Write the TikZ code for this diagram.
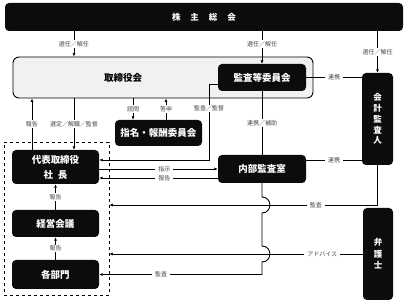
\documentclass[tikz,border=0pt]{standalone}
\usepackage{fontspec}
\setmainfont{Noto Sans CJK JP}
\usetikzlibrary{arrows.meta,calc,positioning}
\definecolor{BoxBlack}{RGB}{12,12,12}
\definecolor{BoardGray}{RGB}{241,241,241}
\definecolor{NoteGray}{RGB}{70,70,70}

\begin{document}
\begin{tikzpicture}[x=1pt,y=-1pt,
    blackbox/.style={fill=BoxBlack,rounded corners=4pt,text=white,inner sep=0pt,align=center,
      font=\fontsize{9.5}{15}\selectfont\bfseries},
    tallbox/.style={blackbox,minimum width=31pt,minimum height=92pt,font=\fontsize{8.5}{10.8}\selectfont\bfseries},
    note/.style={fill=white,text=NoteGray,font=\fontsize{6}{7}\selectfont,inner xsep=3pt,inner ysep=1pt},
    conn/.style={line width=.9pt},
    arr/.style={conn,-{Latex[length=3.5pt,width=3pt]}}]
  \useasboundingbox (0,0) rectangle (408,305);

  \node[blackbox,minimum width=398pt,minimum height=28pt,font=\fontsize{8.5}{10}\selectfont\bfseries]
    (soukai) at (204,17) {株\hspace{10pt}主\hspace{10pt}総\hspace{10pt}会};
  \node[draw,fill=BoardGray,line width=.9pt,rounded corners=6pt,minimum width=300pt,minimum height=41pt]
    (bod) at (163,77.5) {};
  \node[font=\fontsize{9.5}{12}\selectfont\bfseries] (bodtext) at (123,78) {取締役会};
  \node[blackbox,minimum width=88pt,minimum height=27pt] (kansa) at (262,77.5) {監査等委員会};
  \node[tallbox] (kaikei) at (377.5,119) {会\\計\\監\\査\\人};
  \node[blackbox,minimum width=87pt,minimum height=26pt] (shimei) at (158.5,133) {指名・報酬委員会};
  \node[blackbox,minimum width=87pt,minimum height=34pt] (daihyo) at (55.5,167) {代表取締役\\社\hspace{5pt}長};
  \node[blackbox,minimum width=88pt,minimum height=28pt] (naibu) at (262,169) {内部監査室};
  \node[blackbox,minimum width=87pt,minimum height=27pt] (keiei) at (55.5,223.5) {経営会議};
  \node[blackbox,minimum width=87pt,minimum height=29pt] (bumon) at (55.5,274.5) {各部門};
  \node[tallbox,minimum width=30pt,font=\fontsize{8.5}{11.5}\selectfont\bfseries] (bengoshi) at (378,254) {弁\\護\\士};
  \node[draw,dashed,line width=.7pt,minimum width=105pt,minimum height=153pt] (grp) at (56.5,218.5) {};

  \coordinate (xa) at (74,0);
  \coordinate (xr) at (32,0);
  \coordinate (xq) at (133,0);
  \coordinate (xt) at (166,0);
  \coordinate (xk) at (209,0);
  \coordinate (j1) at (0,205);
  \coordinate (j2) at (0,254);

  \draw[arr] (soukai.south -| xa) -- node[note]{選任／解任} (bod.north -| xa);
  \draw[arr] (soukai.south -| kansa) -- node[note,pos=.4]{選任／解任} (kansa.north);
  \draw[arr] (soukai.south -| kaikei) -- node[note]{選任／解任} (kaikei.north);
  \draw[conn] (kansa.east) -- node[note]{連携} (kansa.east -| kaikei.west);

  \draw[arr] (daihyo.north -| xr) -- node[note]{報告} (bod.south -| xr);
  \draw[arr] (bod.south -| xa) -- node[note]{選定／解職／監督} (daihyo.north -| xa);
  \draw[arr] (bod.south -| xq) -- node[note]{諮問} (shimei.north -| xq);
  \draw[arr] (shimei.north -| xt) -- node[note]{答申} (bod.south -| xt);
  \draw[arr] ([yshift=-7pt]kansa.west) -- ([yshift=-7pt]kansa.west -| xk)
    |- node[note,pos=.16]{監査／監督} ([yshift=7pt]daihyo.east);
  \draw[conn] (kansa.south) -- node[note]{連携／補助} (naibu.north);

  \draw[arr] (daihyo.east |- naibu.west) -- node[note,pos=.55]{指示} (naibu.west);
  \draw[arr] ([yshift=-9pt]naibu.west) -- node[note,pos=.45]{報告} ([yshift=-9pt]naibu.west -| daihyo.east);
  \draw[conn] ([yshift=9pt]naibu.east) -- node[note]{連携} ([yshift=9pt]naibu.east -| kaikei.west);

  \draw[arr] (kaikei.south) |- node[note,pos=.615]{監査} (grp.east |- j1);
  \draw[arr] (bengoshi.west) -- node[note,pos=.16]{アドバイス} (bengoshi.west -| grp.east);
  \draw[arr] (naibu.south) -- ($(naibu.south |- j1)+(0,-8)$)
    .. controls +(10.5,0) and +(10.5,0) .. ($(naibu.south |- j1)+(0,8)$)
    -- ($(naibu.south |- j2)+(0,-8)$)
    .. controls +(10.5,0) and +(10.5,0) .. ($(naibu.south |- j2)+(0,8)$)
    |- node[note,pos=.81]{監査} (bumon.east);

  \draw[arr] (keiei.north) -- node[note]{報告} (daihyo.south);
  \draw[arr] (bumon.north) -- node[note]{報告} (keiei.south);
\end{tikzpicture}
\end{document}
